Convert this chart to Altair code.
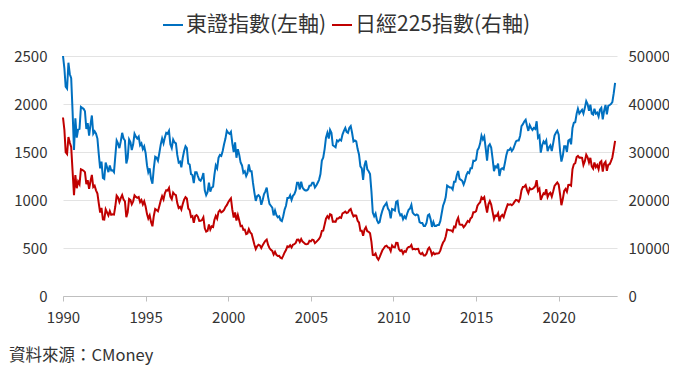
import altair as alt
import pandas as pd

# Monthly closes, Jan 1990 .. Jun 2023
topix = [
    2500, 2370, 2180, 2160, 2430, 2310, 2270, 1920, 1520, 1850, 1650, 1733,  # 1990
    1740, 1970, 1960, 1950, 1925, 1740, 1800, 1670, 1785, 1880, 1690, 1715,  # 1991
    1690, 1640, 1480, 1330, 1400, 1230, 1220, 1390, 1340, 1290, 1360, 1308,  # 1992
    1310, 1290, 1450, 1620, 1590, 1540, 1610, 1700, 1640, 1620, 1380, 1439,  # 1993
    1630, 1600, 1520, 1580, 1690, 1660, 1640, 1660, 1570, 1590, 1530, 1559,  # 1994
    1490, 1360, 1290, 1330, 1220, 1170, 1330, 1450, 1440, 1410, 1490, 1577,  # 1995
    1640, 1590, 1650, 1700, 1690, 1720, 1580, 1540, 1630, 1600, 1590, 1470,  # 1996
    1390, 1400, 1340, 1440, 1510, 1560, 1540, 1380, 1370, 1270, 1260, 1175,  # 1997
    1290, 1290, 1250, 1210, 1200, 1230, 1280, 1100, 1050, 1080, 1180, 1087,  # 1998
    1130, 1140, 1260, 1360, 1330, 1440, 1470, 1460, 1510, 1580, 1640, 1722,  # 1999
    1700, 1690, 1710, 1590, 1500, 1600, 1440, 1530, 1470, 1390, 1360, 1283,  # 2000
    1300, 1250, 1280, 1370, 1300, 1300, 1180, 1080, 990, 1040, 1050, 1032,   # 2001
    950, 1000, 1060, 1090, 1130, 1030, 960, 940, 920, 840, 890, 843,         # 2002
    820, 830, 790, 780, 830, 900, 940, 1020, 1020, 1050, 1000, 1043,         # 2003
    1060, 1100, 1180, 1180, 1110, 1190, 1130, 1110, 1100, 1100, 1110, 1149,  # 2004
    1150, 1180, 1180, 1130, 1150, 1180, 1210, 1270, 1410, 1440, 1530, 1649,  # 2005
    1700, 1640, 1730, 1700, 1570, 1560, 1550, 1620, 1610, 1630, 1620, 1681,  # 2006
    1720, 1750, 1710, 1700, 1750, 1770, 1700, 1610, 1620, 1610, 1530, 1475,  # 2007
    1350, 1330, 1210, 1360, 1410, 1320, 1300, 1270, 1090, 870, 830, 859,     # 2008
    790, 760, 770, 840, 890, 930, 950, 970, 910, 890, 810, 907,              # 2009
    900, 890, 980, 990, 880, 840, 850, 800, 830, 810, 860, 898,              # 2010
    910, 950, 870, 850, 840, 850, 840, 770, 760, 760, 730, 729,              # 2011
    760, 840, 850, 800, 720, 770, 730, 730, 740, 740, 780, 859,              # 2012
    940, 980, 1030, 1150, 1140, 1130, 1130, 1110, 1190, 1190, 1260, 1302,    # 2013
    1220, 1210, 1200, 1160, 1200, 1260, 1290, 1280, 1330, 1330, 1410, 1407,  # 2014
    1420, 1520, 1540, 1590, 1670, 1630, 1660, 1540, 1410, 1560, 1580, 1547,  # 2015
    1430, 1300, 1350, 1340, 1380, 1250, 1320, 1330, 1320, 1390, 1470, 1519,  # 2016
    1520, 1540, 1510, 1530, 1570, 1610, 1620, 1620, 1670, 1770, 1790, 1818,  # 2017
    1836, 1770, 1720, 1780, 1750, 1730, 1750, 1740, 1820, 1650, 1670, 1494,  # 2018
    1570, 1610, 1590, 1620, 1510, 1550, 1570, 1510, 1590, 1670, 1700, 1721,  # 2019
    1680, 1510, 1400, 1460, 1560, 1560, 1500, 1620, 1630, 1580, 1750, 1805,  # 2020
    1810, 1900, 1950, 1900, 1920, 1940, 1900, 1960, 2030, 2000, 1930, 1992,  # 2021
    1900, 1890, 1950, 1900, 1910, 1870, 1940, 1960, 1840, 1930, 1990, 1892,  # 2022
    1980, 1990, 2000, 2020, 2110, 2220,                                      # 2023
]

nikkei = [
    37189, 34591, 29980, 29584, 33131, 31940, 31036, 25978, 20984, 25194, 22455, 23849,  # 1990
    23293, 26409, 26292, 26111, 25790, 23291, 24121, 22336, 23916, 25222, 22687, 22984,  # 1991
    22023, 21339, 19346, 17391, 18348, 15952, 15910, 18061, 17399, 16767, 17684, 16925,  # 1992
    17024, 16953, 18591, 20919, 20552, 19590, 20380, 21027, 20106, 19704, 16408, 17417,  # 1993
    20229, 19997, 19112, 19726, 20974, 20644, 20462, 20629, 19564, 19990, 19076, 19723,  # 1994
    18650, 17054, 16140, 16807, 15437, 14517, 16678, 18117, 17913, 17655, 18744, 19868,  # 1995
    20813, 20125, 21407, 22041, 21956, 22531, 20693, 20167, 21556, 21197, 21020, 19361,  # 1996
    18330, 18557, 18003, 19151, 20069, 20605, 20331, 18229, 17888, 16459, 16636, 15259,  # 1997
    16628, 16832, 16527, 15641, 15671, 15830, 16379, 14108, 13406, 13565, 14884, 13842,  # 1998
    14499, 14368, 15837, 16702, 16112, 17530, 17862, 17437, 17605, 17942, 18558, 18934,  # 1999
    19540, 19960, 20337, 17974, 16332, 17411, 15727, 16861, 15747, 14539, 14649, 13786,  # 2000
    13844, 12884, 12999, 13934, 13262, 12969, 11861, 10714, 9775, 10367, 10697, 10543,   # 2001
    9998, 10588, 11025, 11493, 11764, 10622, 10000, 9620, 9383, 8640, 9216, 8579,        # 2002
    8340, 8363, 7973, 7831, 8425, 9083, 9563, 10344, 10219, 10560, 10101, 10677,         # 2003
    10783, 11042, 11715, 11762, 11237, 11859, 11326, 11082, 10824, 10771, 10899, 11489,  # 2004
    11388, 11741, 11669, 11009, 11277, 11584, 11900, 12414, 13574, 13607, 14872, 16111,  # 2005
    16650, 16205, 17060, 16906, 15467, 15505, 15457, 16141, 16128, 16400, 16274, 17226,  # 2006
    17383, 17604, 17288, 17400, 17876, 18138, 17249, 16569, 16786, 16737, 15681, 15308,  # 2007
    13592, 13604, 12526, 13850, 14339, 13481, 13377, 13073, 11260, 8577, 8512, 8860,     # 2008
    7994, 7568, 8110, 8828, 9523, 9958, 10357, 10493, 10133, 10035, 9346, 10546,         # 2009
    10198, 10126, 11090, 11057, 9769, 9383, 9537, 8824, 9369, 9202, 9937, 10229,         # 2010
    10238, 10624, 9755, 9850, 9694, 9816, 9833, 8955, 8700, 8988, 8435, 8455,            # 2011
    8803, 9723, 10084, 9521, 8543, 9007, 8695, 8840, 8870, 8928, 9446, 10395,            # 2012
    11139, 11559, 12398, 13861, 13775, 13677, 13668, 13389, 14456, 14328, 15662, 16291,  # 2013
    14915, 14841, 14828, 14304, 14632, 15162, 15621, 15425, 16174, 16414, 17460, 17451,  # 2014
    17674, 18798, 19207, 19520, 20563, 20236, 20585, 18890, 17388, 19083, 19747, 19034,  # 2015
    17518, 16027, 16759, 16666, 17235, 15576, 16569, 16887, 16450, 17425, 18308, 19114,  # 2016
    19041, 19119, 18909, 19197, 19651, 20033, 19925, 19646, 20356, 22012, 22725, 22765,  # 2017
    23098, 22068, 21454, 22468, 22202, 22305, 22554, 22865, 24120, 21920, 22351, 20015,  # 2018
    20773, 21385, 21206, 22259, 20601, 21276, 21522, 20704, 21756, 22927, 23294, 23657,  # 2019
    23205, 21143, 18917, 20194, 21878, 22288, 21710, 23140, 23185, 22977, 26434, 27444,  # 2020
    27663, 28966, 29179, 28813, 28860, 28792, 27284, 28090, 29453, 28893, 27822, 28792,  # 2021
    27002, 26527, 27821, 26848, 27280, 26393, 27802, 28092, 25937, 27587, 27969, 26095,  # 2022
    27327, 27446, 28041, 28856, 30500, 32300,                                            # 2023
]

series_names = ["東證指數(左軸)", "日經225指數(右軸)"]
series_colors = ["#0070C0", "#C00000"]
left_ticks = [0, 500, 1000, 1500, 2000, 2500]
right_ticks = [0, 10000, 20000, 30000, 40000, 50000]
year_ticks = [1990, 1995, 2000, 2005, 2010, 2015, 2020]

dates = pd.date_range("1990-01-01", periods=len(topix), freq="MS")
df_t = pd.DataFrame({"date": dates, "value": topix, "series": series_names[0]})
df_n = pd.DataFrame({"date": dates, "value": nikkei, "series": series_names[1]})

FONT = "Noto Sans CJK TC"

xenc = alt.X(
    "date:T",
    scale=alt.Scale(domain=[alt.DateTime(year=1990, month=1, date=1),
                            alt.DateTime(year=2023, month=7, date=13)]),
    axis=alt.Axis(
        title=None,
        values=[alt.DateTime(year=y, month=1, date=1) for y in year_ticks],
        format="%Y",
        grid=False,
        domainColor="#BFBFBF",
        tickColor="#BFBFBF",
        tickSize=5,
        labelPadding=9,
        labelFlush=False,
        labelFontSize=15,
        labelColor="#333333",
        labelFont=FONT,
    ),
)

color = alt.Color(
    "series:N",
    scale=alt.Scale(domain=series_names, range=series_colors),
    legend=alt.Legend(
        title=None,
        orient="none",
        legendX=99,
        legendY=-42,
        direction="horizontal",
        symbolType="stroke",
        symbolStrokeWidth=2,
        symbolSize=400,
        labelFontSize=21,
        labelFont=FONT,
        labelColor="#333333",
        labelOffset=2,
        columnPadding=1,
        labelLimit=400,
    ),
)

left = alt.Chart(df_t).mark_line(strokeWidth=2).encode(
    x=xenc,
    y=alt.Y(
        "value:Q",
        scale=alt.Scale(domain=[0, 2500]),
        axis=alt.Axis(
            title=None, values=left_ticks, format="d", orient="left",
            grid=True, gridColor="#E3E3E3", ticks=False, domain=False,
            labelPadding=16, labelFontSize=15, labelColor="#333333", labelFont=FONT,
        ),
    ),
    color=color,
)

right = alt.Chart(df_n).mark_line(strokeWidth=2).encode(
    x=xenc,
    y=alt.Y(
        "value:Q",
        scale=alt.Scale(domain=[0, 50000]),
        axis=alt.Axis(
            title=None, values=right_ticks, format="d", orient="right",
            grid=False, ticks=False, domain=False,
            labelPadding=11, labelFontSize=15, labelColor="#333333", labelFont=FONT,
        ),
    ),
    color=color,
)

chart = (
    alt.layer(left, right)
    .resolve_scale(y="independent", color="shared")
    .properties(
        width=554,
        height=240,
        autosize=alt.AutoSizeParams(type="none"),
        padding={"left": 55, "top": 48, "right": 52, "bottom": 72},
        title=alt.TitleParams(
            "資料來源：CMoney",
            orient="bottom",
            anchor="start",
            frame="group",
            dx=-54,
            offset=23,
            fontSize=16.5,
            fontWeight="normal",
            font=FONT,
            color="#333333",
        ),
    )
    .configure_view(stroke=None)
)

chart.save("out.html", embed_options={"renderer": "svg", "actions": False})
